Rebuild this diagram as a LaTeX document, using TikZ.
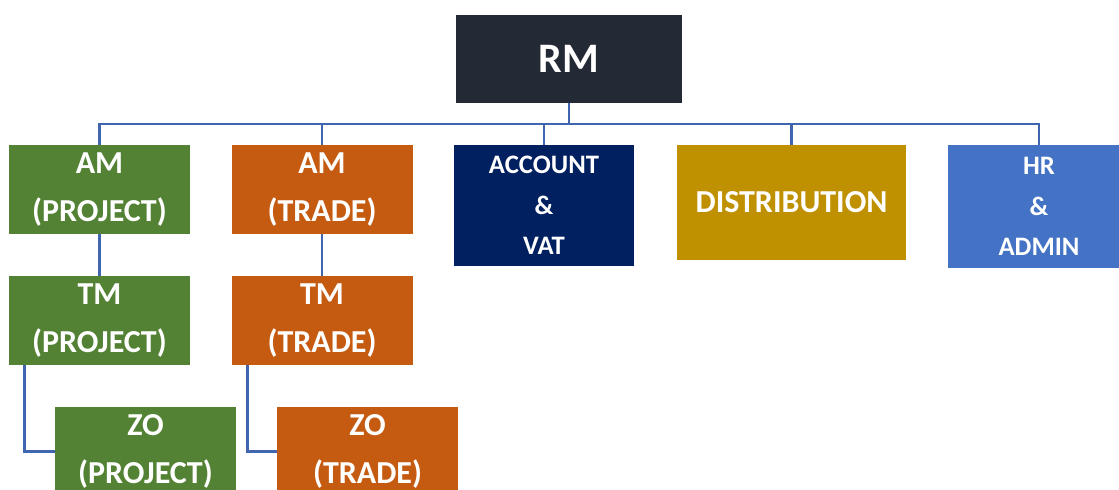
\documentclass[tikz,border=0pt]{standalone}
\usepackage{fontspec}
\setmainfont{Carlito}

\definecolor{rmgray}{HTML}{232A35}
\definecolor{projgreen}{HTML}{548235}
\definecolor{tradeorange}{HTML}{C55A11}
\definecolor{accnavy}{HTML}{002060}
\definecolor{distgold}{HTML}{BF9000}
\definecolor{hrblue}{HTML}{4472C4}
\definecolor{linkblue}{RGB}{63,102,175}

\begin{document}
\begin{tikzpicture}[x=.75pt, y=-.75pt,
  box/.style={fill=#1, text=white, inner sep=0pt, align=center,
    minimum width=135.75pt, minimum height=66.75pt,
    font=\fontsize{24}{36}\selectfont\bfseries},
  small/.style={font=\fontsize{20}{30.4}\selectfont\bfseries},
  link/.style={draw=linkblue, line width=2.1pt}]
\useasboundingbox (0,0) rectangle (1119,489);
\clip (0,0) rectangle (1119,489);

\node [box=rmgray, minimum width=170pt, minimum height=66pt,
  font=\fontsize{31.5}{36}\selectfont\bfseries] (rm) at (569,59) {RM};

\node [box=projgreen] (amp) at (99.5,189.5) {AM\\(PROJECT)};
\node [box=tradeorange] (amt) at (322,189.5) {AM\\(TRADE)};
\node [box=accnavy, small, minimum width=135pt, minimum height=90.75pt] (acc) at (544,205.5) {ACCOUNT\\\&\\VAT};
\node [box=distgold, minimum width=171.75pt, minimum height=86.25pt] (dist) at (791.5,202.5) {DISTRIBUTION};
\node [box=hrblue, small, minimum width=136.5pt, minimum height=92.25pt] (hr) at (1039,206.5) {HR\\\&\\ADMIN};

\node [box=projgreen] (tmp) at (99.5,320.5) {TM\\(PROJECT)};
\node [box=tradeorange] (tmt) at (322,320.5) {TM\\(TRADE)};

\node [box=projgreen] (zop) at (145.5,451.5) {ZO\\(PROJECT)};
\node [box=tradeorange] (zot) at (367.5,451.5) {ZO\\(TRADE)};

% bus under RM
\coordinate (bus) at (0,124);
\foreach \c in {amp,amt,acc,dist,hr}
  \draw [link] (rm.south) -- (rm.south |- bus) -| (\c.north);

\draw [link] (amp) -- (tmp);
\draw [link] (amt) -- (tmt);

\draw [link] ([xshift=12pt]tmp.south west) |- (zop.west);
\draw [link] ([xshift=12pt]tmt.south west) |- (zot.west);

\end{tikzpicture}
\end{document}
